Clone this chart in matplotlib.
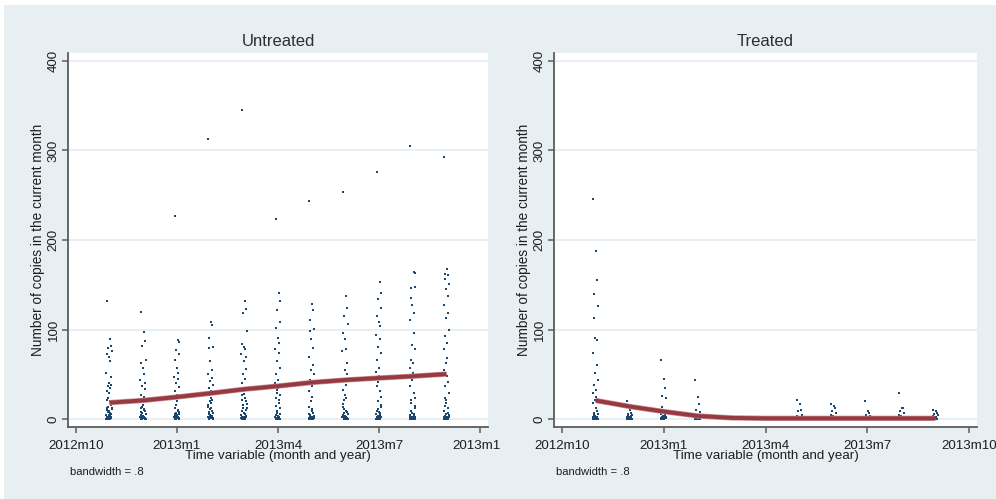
import numpy as np
import matplotlib
matplotlib.use("Agg")
from matplotlib import pyplot as plt
from matplotlib.patches import Rectangle
from matplotlib.transforms import Bbox

plt.rcParams['font.family'] = ['Liberation Sans', 'DejaVu Sans']

# Stata monthly dates (2012m11 = 634 ... 2013m9 = 644)
months = [634, 635, 636, 637, 638, 639, 640, 641, 642, 643, 644]
tick_pos = [633, 636, 639, 642, 645]
tick_lab = ['2012m10', '2013m1', '2013m4', '2013m7', '2013m10']

# copies per month, untreated group
untreated = {
    634: [132, 90, 82, 80, 76, 73, 69, 65, 52, 47, 40, 38, 37, 35, 31, 29, 24, 22, 20, 16, 14,
          12, 10, 9, 7, 5, 3, 2, 1, 0, 0, 0, 1, 2, 3, 4, 6, 8, 11, 13, 0, 1, 0, 2, 5],
    635: [120, 97, 87, 82, 66, 63, 57, 50, 44, 40, 37, 34, 27, 25, 22, 16, 14, 12, 10, 9, 7,
          6, 5, 4, 3, 2, 1, 0, 0, 0, 1, 2, 3, 4, 8, 11, 0, 1, 0, 3],
    636: [227, 88, 86, 77, 73, 66, 57, 52, 47, 45, 40, 36, 32, 27, 24, 20, 16, 12, 9, 8, 7,
          6, 5, 4, 3, 2, 1, 0, 0, 0, 1, 2, 3, 4, 6, 10, 0, 0, 1, 2, 5],
    637: [313, 108, 105, 91, 81, 79, 65, 55, 50, 46, 43, 38, 35, 31, 27, 24, 20, 16, 12, 9, 8,
          7, 6, 5, 4, 3, 2, 1, 0, 0, 1, 2, 3, 11, 14, 18, 22, 0, 1, 0, 4],
    638: [345, 132, 123, 118, 99, 84, 81, 78, 73, 69, 65, 56, 50, 45, 40, 35, 31, 27, 24, 20,
          16, 12, 9, 7, 6, 5, 4, 3, 2, 1, 0, 0, 0, 1, 2, 3, 10, 13, 17, 21, 28, 0, 1],
    639: [223, 141, 132, 122, 109, 102, 91, 85, 78, 74, 65, 57, 50, 44, 40, 35, 29, 24, 18, 12,
          7, 6, 5, 4, 3, 2, 1, 0, 0, 0, 1, 2, 3, 9, 15, 21, 27, 33, 0, 1, 0, 2],
    640: [244, 129, 122, 111, 101, 98, 89, 80, 70, 61, 55, 50, 44, 37, 31, 25, 20, 14, 9, 7,
          5, 4, 3, 2, 1, 0, 0, 0, 1, 2, 3, 6, 11, 0, 1, 0],
    641: [254, 138, 124, 115, 106, 96, 90, 78, 76, 63, 55, 50, 44, 38, 33, 27, 22, 14, 9, 8,
          7, 6, 5, 4, 3, 2, 1, 0, 0, 0, 1, 2, 3, 11, 17, 24, 0, 1, 0, 2, 4],
    642: [276, 153, 141, 134, 124, 115, 109, 104, 94, 89, 81, 74, 66, 57, 53, 48, 42, 37, 31,
          25, 20, 14, 9, 8, 7, 6, 5, 4, 3, 2, 1, 0, 0, 0, 1, 2, 3, 11, 16, 0, 1, 0],
    643: [305, 164, 163, 146, 147, 135, 128, 119, 111, 96, 83, 78, 66, 63, 57, 52, 44, 37, 29,
          24, 18, 12, 9, 7, 6, 5, 4, 3, 2, 1, 0, 0, 0, 1, 2, 3, 15, 21, 0, 1, 0],
    644: [293, 168, 161, 162, 151, 156, 145, 137, 128, 119, 113, 100, 93, 85, 78, 68, 63, 55,
          48, 42, 37, 29, 24, 18, 12, 9, 7, 6, 5, 4, 3, 2, 1, 0, 0, 0, 1, 2, 3, 15, 21, 0, 1, 0],
}

# copies per month, treated group
treated = {
    634: [246, 188, 155, 140, 126, 113, 91, 88, 74, 61, 52, 44, 38, 33, 29, 25, 22, 18, 12, 9,
          7, 6, 5, 4, 3, 2, 1, 0, 0, 0, 1, 2, 3, 4, 0, 1, 0, 2],
    635: [20, 10, 7, 6, 5, 4, 3, 2, 1, 0, 0, 0, 1, 2, 3, 0, 1, 0, 2, 4],
    636: [66, 45, 35, 26, 24, 14, 10, 7, 6, 5, 4, 3, 2, 1, 0, 0, 0, 1, 2, 3, 0, 1, 0, 2],
    637: [44, 25, 17, 10, 8, 5, 4, 3, 2, 1, 0, 0, 0, 1, 2, 0, 1, 0],
    638: [2, 1, 1, 0, 0, 0, 1, 0],
    639: [1, 1, 0, 0, 0, 1, 0],
    640: [22, 17, 10, 9, 5, 4, 3, 2, 1, 0, 0, 0, 1, 2, 0, 1, 0],
    641: [17, 15, 12, 9, 7, 5, 4, 3, 2, 1, 0, 0, 0, 1, 2, 0, 1, 0],
    642: [20, 9, 7, 5, 4, 3, 2, 1, 0, 0, 0, 1, 2, 0, 1, 0],
    643: [29, 13, 12, 9, 7, 5, 4, 3, 2, 1, 0, 0, 0, 1, 2, 0, 1, 0],
    644: [10, 9, 7, 6, 5, 4, 3, 2, 1, 0, 0, 0, 1, 2, 0, 1, 0, 2, 3],
}

# lowess fits (bandwidth .8)
untreated_fit = [18.5, 21, 24.8, 29, 33.5, 37, 41, 43.8, 46, 48, 50.4]
treated_fit = [20.9, 14.2, 8.6, 3.7, 1.5, 1.0, 1.0, 1.0, 1.0, 1.0, 1.0]

# fixed horizontal jitter pattern
jitter = [-0.07, 0.02, 0.05, -0.04, 0.07, -0.06, -0.01, 0.03, -0.09, 0.04, -0.02,
          0.06, -0.05, 0.01, -0.08, 0.0, -0.03]

navy = '#1A476F'
maroon = '#953A40'
bg = '#E8EFF2'
grid = '#E6EEF1'
txt = '#1e1e1e'

fig = plt.figure(figsize=(9.96, 4.99), dpi=100, facecolor='white')
fig.patches.append(Rectangle((4 / 996, 0), 1, 494 / 499, transform=fig.transFigure,
                             facecolor=bg, edgecolor='none', zorder=-10))


def panel(rect, data, fit, title):
    ax = fig.add_axes(rect)
    ax.set_facecolor('white')
    xs, ys = [], []
    for m in months:
        vals = data[m]
        for i, v in enumerate(vals):
            xs.append(m + jitter[i % len(jitter)])
            ys.append(v)
    ax.plot(xs, ys, 's', ms=1.6, color=navy, mew=0, zorder=3)
    ax.plot(months, fit, color='#C98A8E', lw=3.8, solid_capstyle='butt', zorder=4)
    ax.plot(months, fit, color=maroon, lw=2.8, solid_capstyle='butt', zorder=5)
    ax.set_xlim(632.77, 645.23)
    ax.set_ylim(-9, 409)
    ax.set_yticks([0, 100, 200, 300, 400])
    ax.set_xticks(tick_pos)
    ax.grid(axis='y', color=grid, lw=1.3, zorder=0)
    for s in ['top', 'right']:
        ax.spines[s].set_visible(False)
    for s in ['left', 'bottom']:
        ax.spines[s].set_color('#5c5c5c')
        ax.spines[s].set_linewidth(1.3)
    ax.tick_params(axis='both', length=4, width=1.1, color='#5c5c5c',
                   labelsize=9.6, labelcolor=txt, pad=2)
    ax.tick_params(axis='x', pad=5)
    ax.tick_params(axis='y', labelrotation=90)
    for lb in ax.get_yticklabels():
        lb.set_va('center')
    ax.set_ylabel('Number of copies in the current month', fontsize=9.8, color=txt, labelpad=2)
    ax.set_xlabel('Time variable (month and year)', fontsize=9.6, color=txt, labelpad=-1.2)
    ax.set_title(title, fontsize=12, color='#2a2f38', pad=5)
    return ax


ax1 = panel([68 / 996, 71.7 / 499, 420 / 996, 374.6 / 499], untreated, untreated_fit, 'Untreated')
ax2 = panel([554 / 996, 71.7 / 499, 423 / 996, 374.6 / 499], treated, treated_fit, 'Treated')

# left panel: last tick label is clipped at the subgraph edge
ax1.set_xticklabels(tick_lab[:-1] + [''])
ax2.set_xticklabels(tick_lab)
fig.canvas.draw()
lab0 = ax1.get_xticklabels()[0]
t = ax1.text(645, 0, '2013m10', fontsize=9.6, color=txt, ha='center')
t.set_transform(lab0.get_transform())
t.set_va(lab0.get_va())
t.set_clip_box(Bbox.from_extents(0, 0, 500, 499))
t.set_clip_on(True)

fig.text(70 / 996, 1 - 472 / 499, 'bandwidth = .8', fontsize=8.1, color=txt, va='center')
fig.text(556 / 996, 1 - 472 / 499, 'bandwidth = .8', fontsize=8.1, color=txt, va='center')

plt.savefig('out.png', dpi=100, facecolor=fig.get_facecolor())
